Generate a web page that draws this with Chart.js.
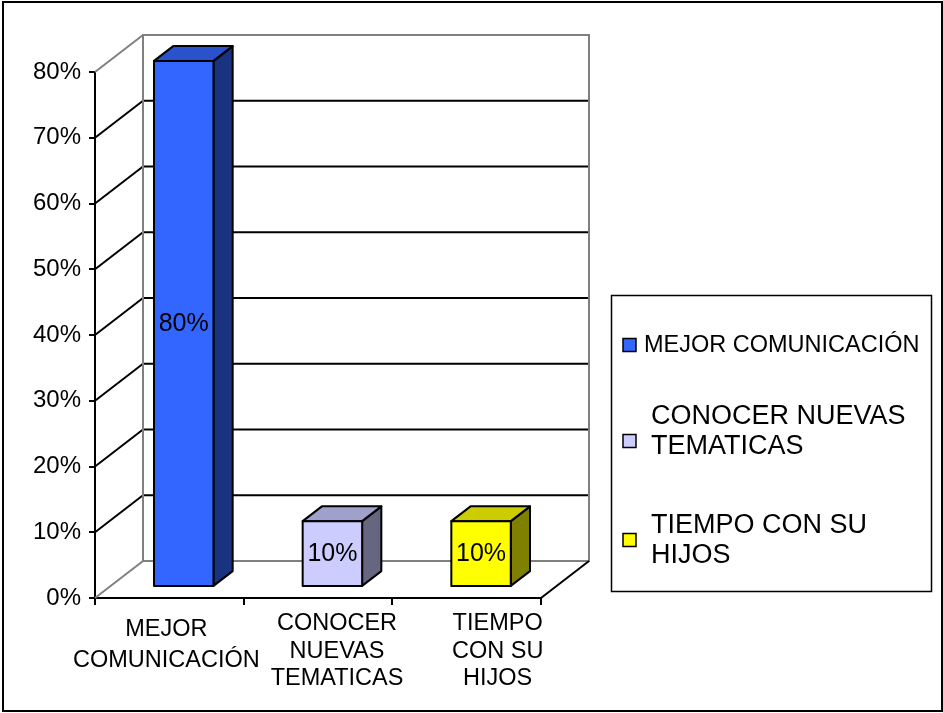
<!DOCTYPE html>
<html>
<head>
<meta charset="utf-8">
<script src="https://cdn.jsdelivr.net/npm/chart.js@4/dist/chart.umd.min.js"></script>
<style>
  html, body { margin: 0; padding: 0; background: #fff; }
  #wrap { width: 943px; height: 713px; }
</style>
</head>
<body>
<div id="wrap"><canvas id="chart" width="943" height="713"></canvas></div>
<script>
// ── Data ──
const categories = ["MEJOR COMUNICACIÓN", "CONOCER NUEVAS TEMATICAS", "TIEMPO CON SU HIJOS"];
const axisLabels = [["MEJOR", "COMUNICACIÓN"], ["CONOCER", "NUEVAS", "TEMATICAS"], ["TIEMPO", "CON SU", "HIJOS"]];
const values = [80, 10, 10];
const yTicks = [0, 10, 20, 30, 40, 50, 60, 70, 80];

// ── Style ──
const FONT = '"Liberation Sans", Arial, sans-serif';
const frontColors = ["#3366FF", "#CCCCFF", "#FFFF00"];
const topColors = ["#2952CC", "#A0A0CC", "#CCCC00"];
const sideColors = ["#1A3380", "#666680", "#808000"];
const GRAY = "#808080";

// 3D depth of the floor / walls, and where the bars sit inside it
const DX = 48, DY = -37;
const FRONT = 0.3, BACK = 0.7;

function line(ctx, x1, y1, x2, y2) {
  ctx.beginPath();
  ctx.moveTo(x1, y1);
  ctx.lineTo(x2, y2);
  ctx.stroke();
}

function poly(ctx, pts, fill) {
  ctx.beginPath();
  ctx.moveTo(pts[0][0], pts[0][1]);
  for (let i = 1; i < pts.length; i++) ctx.lineTo(pts[i][0], pts[i][1]);
  ctx.closePath();
  ctx.fillStyle = fill;
  ctx.fill();
  ctx.stroke();
}

function wrapWords(ctx, text, maxW) {
  const words = text.split(" ");
  const lines = [];
  let cur = "";
  words.forEach((w) => {
    const test = cur ? cur + " " + w : w;
    if (cur && ctx.measureText(test).width > maxW) {
      lines.push(cur);
      cur = w;
    } else {
      cur = test;
    }
  });
  if (cur) lines.push(cur);
  return lines;
}

// ── Plugin: walls, 3D boxes, labels, legend ──
const threeD = {
  id: "threeD",
  beforeDatasetsDraw(chart) {
    const { ctx, chartArea: a, scales: { y } } = chart;
    ctx.save();
    ctx.lineWidth = 2;
    yTicks.forEach((v) => {
      const py = y.getPixelForValue(v);
      const edge = v === 0 || v === yTicks[yTicks.length - 1];
      ctx.strokeStyle = edge ? GRAY : "#000";
      line(ctx, a.left, py, a.left + DX, py + DY);
      if (!edge) line(ctx, a.left + DX, py + DY, a.right + DX, py + DY);
    });
    // back wall frame
    ctx.strokeStyle = GRAY;
    ctx.strokeRect(a.left + DX, a.top + DY, a.right - a.left, a.bottom - a.top);
    // floor right edge
    ctx.strokeStyle = "#000";
    line(ctx, a.right, a.bottom, a.right + DX, a.bottom + DY);
    ctx.restore();
  },
  afterDatasetsDraw(chart) {
    const { ctx } = chart;
    const meta = chart.getDatasetMeta(0);
    const ox = (BACK - FRONT) * DX, oy = (BACK - FRONT) * DY;
    ctx.save();
    ctx.lineWidth = 2;
    ctx.lineJoin = "round";
    ctx.strokeStyle = "#000";
    meta.data.forEach((el, i) => {
      const p = el.getProps(["x", "y", "base", "width"], true);
      const fl = p.x - p.width / 2 + FRONT * DX;
      const fr = fl + p.width;
      const ft = p.y + FRONT * DY;
      const fb = p.base + FRONT * DY;
      poly(ctx, [[fr, ft], [fr + ox, ft + oy], [fr + ox, fb + oy], [fr, fb]], sideColors[i]);
      poly(ctx, [[fl, ft], [fl + ox, ft + oy], [fr + ox, ft + oy], [fr, ft]], topColors[i]);
      poly(ctx, [[fl, ft], [fr, ft], [fr, fb], [fl, fb]], frontColors[i]);
      ctx.fillStyle = "#000";
      ctx.font = "25px " + FONT;
      ctx.textAlign = "center";
      ctx.textBaseline = "middle";
      ctx.fillText(values[i] + "%", (fl + fr) / 2, (ft + fb) / 2 + 1);
    });
    ctx.restore();
  },
  afterDraw(chart) {
    const { ctx, scales: { x } } = chart;
    ctx.save();
    ctx.fillStyle = "#000";
    ctx.textAlign = "center";
    ctx.textBaseline = "middle";
    ctx.font = "23.5px " + FONT;

    // category labels under the floor
    const nudge = [-3, 19, 31];
    axisLabels.forEach((lines, i) => {
      const cx = x.getPixelForTick(i) + nudge[i];
      const top = lines.length === 3 ? 623 : 629;
      const step = lines.length === 3 ? 27.5 : 31;
      lines.forEach((t, j) => ctx.fillText(t, cx, top + j * step + 1));
    });

    // legend
    ctx.lineWidth = 1.5;
    ctx.strokeStyle = "#000";
    ctx.strokeRect(611.5, 295.5, 320, 296);
    const legendFont = [23.5, 27, 27];
    const textX = [644, 651, 651];
    const firstLineY = [346, 417, 526];
    const markerY = [345, 441, 540];
    ctx.textAlign = "left";
    categories.forEach((c, i) => {
      ctx.fillStyle = frontColors[i];
      ctx.fillRect(623, markerY[i] - 6.5, 13, 13);
      ctx.strokeRect(623, markerY[i] - 6.5, 13, 13);
      ctx.fillStyle = "#000";
      ctx.font = legendFont[i] + "px " + FONT;
      wrapWords(ctx, c, 280).forEach((t, j) => ctx.fillText(t, textX[i], firstLineY[i] + j * 30));
    });

    // outer frame
    ctx.lineWidth = 2;
    ctx.strokeRect(3, 2, 939, 709);
    ctx.restore();
  },
};

new Chart(document.getElementById("chart"), {
  type: "bar",
  data: {
    labels: categories,
    datasets: [
      {
        data: values,
        backgroundColor: "rgba(0,0,0,0)",
        borderWidth: 0,
        categoryPercentage: 0.8,
        barPercentage: 0.5,
      },
    ],
  },
  options: {
    responsive: false,
    animation: false,
    layout: { padding: { left: 0, top: 72, right: 402, bottom: 0 } },
    plugins: {
      legend: { display: false },
      tooltip: { enabled: false },
    },
    scales: {
      x: {
        offset: true,
        grid: { offset: true, drawOnChartArea: false, tickLength: 7, color: "#000", lineWidth: 2 },
        border: { color: "#000", width: 2 },
        ticks: { display: false },
        afterFit(s) { s.height = 115; },
      },
      y: {
        min: 0,
        max: 80,
        afterBuildTicks(s) { s.ticks = yTicks.map((v) => ({ value: v })); },
        grid: { drawOnChartArea: false, tickLength: 6, color: "#000", lineWidth: 2 },
        border: { color: "#000", width: 2 },
        ticks: {
          callback: (v) => v + "%",
          color: "#000",
          padding: 8,
          font: { family: FONT, size: 24 },
        },
        afterFit(s) { s.width = 95; },
      },
    },
  },
  plugins: [threeD],
});
</script>
</body>
</html>
